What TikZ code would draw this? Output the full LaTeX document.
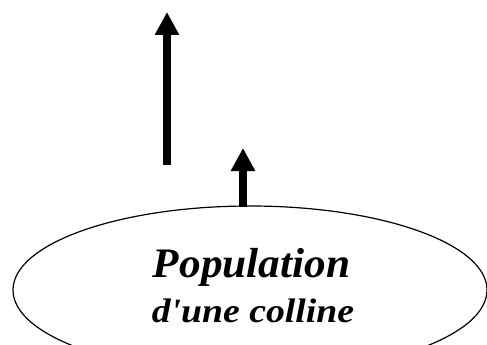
\documentclass[tikz,border=0pt]{standalone}
\usepackage{fontspec}
\setmainfont{Liberation Serif}
\usetikzlibrary{shapes.geometric,arrows.meta}
\begin{document}
\begin{tikzpicture}[x=1pt,y=-1pt,
  bigarrow/.style={line width=8pt,-{Triangle[width=23pt,length=23pt]}},
  lbl/.style={inner sep=0pt,anchor=base}]
\useasboundingbox (0,0) rectangle (487,345);
\node (pop) [ellipse,draw,line width=1.2pt,minimum width=474pt,minimum height=168pt,inner sep=0pt] at (250,290) {};
\node (t1) [lbl,xscale=1.03,font=\fontsize{42}{42}\selectfont\bfseries\itshape] at (251.5,277) {Population};
\node (t2) [lbl,xscale=1.11,font=\fontsize{34}{34}\selectfont\bfseries\itshape] at (253,322) {d\textquotesingle une colline};
\coordinate (a1s) at (167,165);
\coordinate (a1e) at (167,12);
\coordinate (a2s) at (243,207);
\coordinate (a2e) at (243,148);
\draw[bigarrow] (a1s) -- (a1e);
\draw[bigarrow] (a2s) -- (a2e);
\end{tikzpicture}
\end{document}
